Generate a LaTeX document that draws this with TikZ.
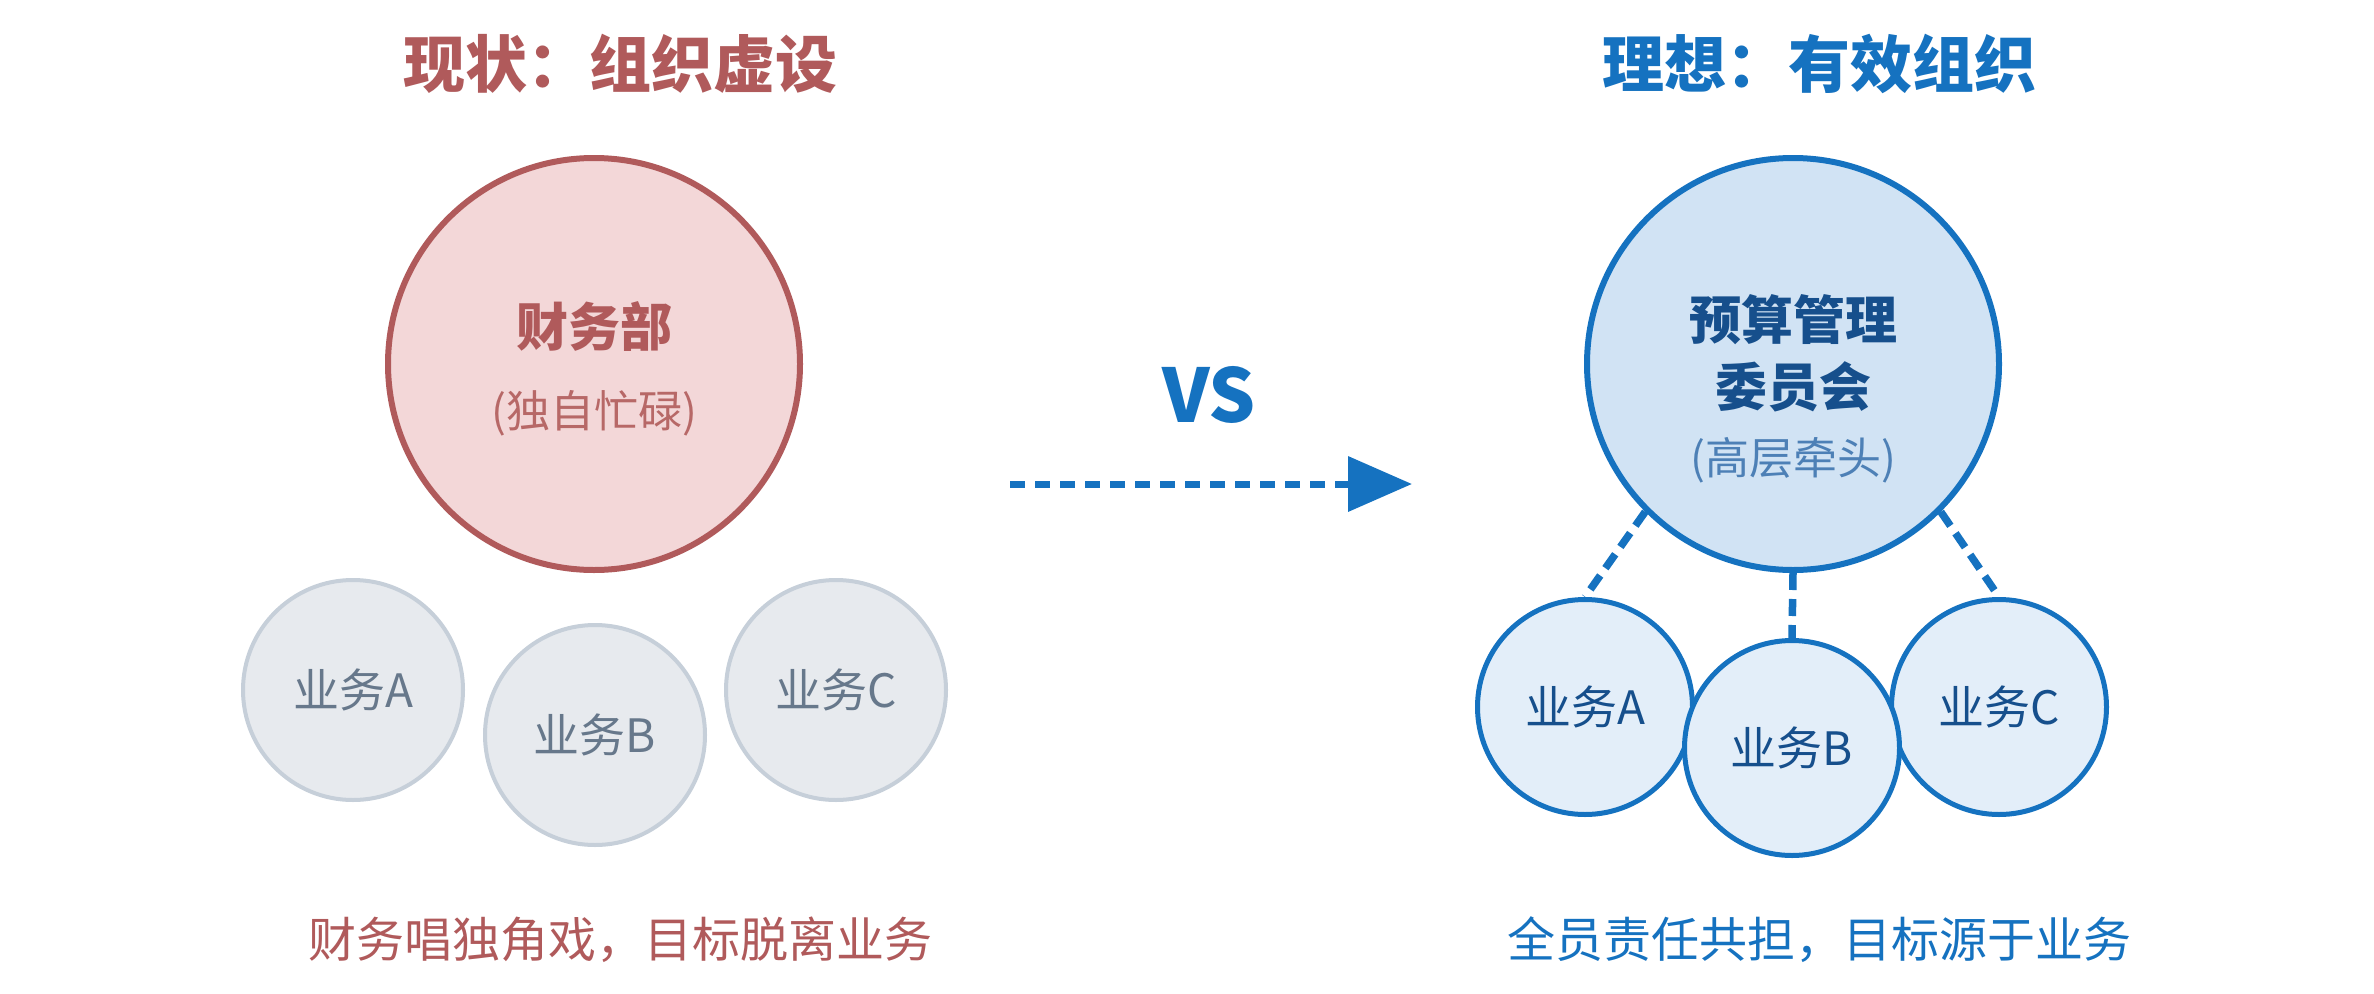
\documentclass[tikz,border=0pt]{standalone}
\usepackage{fontspec}
\setmainfont{Noto Sans CJK SC}
\usetikzlibrary{arrows.meta}
\definecolor{redc}{HTML}{B05A5B}
\definecolor{redsub}{HTML}{B76867}
\definecolor{redfill}{HTML}{F3D7D8}
\definecolor{bluec}{HTML}{1572C0}
\definecolor{bluefill}{HTML}{D1E3F4}
\definecolor{bluesmall}{HTML}{E3EEF9}
\definecolor{bluetext}{HTML}{164F8C}
\definecolor{bluesub}{HTML}{4D80B6}
\definecolor{grayc}{HTML}{C6CFD9}
\definecolor{grayfill}{HTML}{E7EAEE}
\definecolor{graytext}{HTML}{67788B}
\tikzset{
  bigcirc/.style={circle, line width=6pt, minimum size=412pt, inner sep=0pt},
  smallgray/.style={circle, draw=grayc, fill=grayfill, line width=4pt, minimum size=220pt, inner sep=0pt,
    text=graytext, font=\fontsize{46}{54}\selectfont},
  smallblue/.style={circle, draw=bluec, fill=bluesmall, line width=5pt, minimum size=215pt, inner sep=0pt,
    text=bluetext, font=\fontsize{46}{54}\selectfont},
  titletxt/.style={font=\fontsize{62}{74}\selectfont\bfseries, inner sep=0pt},
  maintxt/.style={font=\fontsize{52}{62}\selectfont\bfseries, inner sep=0pt},
  subtxt/.style={font=\fontsize{44}{52}\selectfont, inner sep=0pt},
  foottxt/.style={font=\fontsize{48}{58}\selectfont, inner sep=0pt},
  conn/.style={draw=bluec, line width=7.5pt, dash pattern=on 17pt off 9pt}
}
\begin{document}
\begin{tikzpicture}[x=1pt,y=-1pt]
\useasboundingbox (0,0) rectangle (2374,993);
\fill[white] (0,0) rectangle (2374,993);
% titles
\node[titletxt, text=redc] (t1) at (620,64) {现状：组织虚设};
\node[titletxt, text=bluec] (t2) at (1819,64) {理想：有效组织};
% left side
\node[bigcirc, draw=redc, fill=redfill] (L) at (594,364) {};
\node[maintxt, text=redc] (Lt) at (594,327) {财务部};
\node[subtxt, text=redsub] (Ls) at (594,413) {(独自忙碌)};
\node[smallgray] (LA) at (353,690) {业务A};
\node[smallgray] (LC) at (836,690) {业务C};
\node[smallgray] (LB) at (595,735) {业务B};
% middle
\node[font=\fontsize{74}{88}\selectfont\bfseries, text=bluec, inner sep=0pt] (vs) at (1209,395) {VS};
\coordinate (a1) at (1010,484);
\coordinate (a2) at (1412,484);
\draw[bluec, line width=7pt, dash pattern=on 15pt off 10pt, -{Triangle[length=64pt,width=54pt]}] (a1) -- (a2);
% right side
\node[bigcirc, draw=bluec, fill=bluefill] (R) at (1793,364) {};
\node[maintxt, text=bluetext] (Rt1) at (1793,320) {预算管理};
\node[maintxt, text=bluetext] (Rt2) at (1793,387) {委员会};
\node[subtxt, text=bluesub] (Rs) at (1793,460) {(高层牵头)};
\node[smallblue] (RA) at (1585,707) {业务A};
\node[smallblue] (RC) at (1999,707) {业务C};
\node[smallblue] (RB) at (1792,748) {业务B};
\draw[conn] (R.-135) -- (RA.north);
\draw[conn] (R.south) -- (RB.north);
\draw[conn] (R.-45) -- (RC.north);
% footers
\node[foottxt, text=redc] (f1) at (620,940) {财务唱独角戏，目标脱离业务};
\node[foottxt, text=bluec] (f2) at (1819,940) {全员责任共担，目标源于业务};
\end{tikzpicture}
\end{document}
